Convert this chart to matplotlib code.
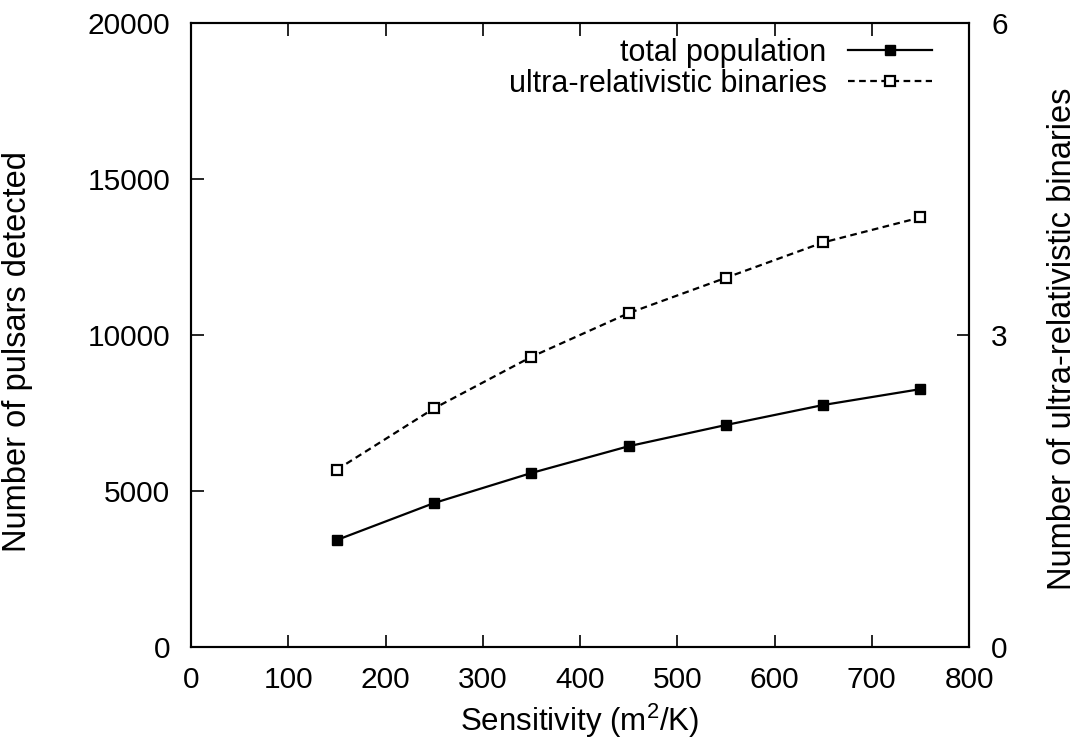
import matplotlib
matplotlib.use('Agg')
import matplotlib.pyplot as plt

# values
sensitivity = [150, 250, 350, 450, 550, 650, 750]
total_population = [3430, 4615, 5577, 6435, 7115, 7756, 8265]
ultra_binaries = [1.705, 2.295, 2.79, 3.21, 3.55, 3.89, 4.13]

x_ticks = [0, 100, 200, 300, 400, 500, 600, 700, 800]
left_ticks = [0, 5000, 10000, 15000, 20000]
right_ticks = [0, 3, 6]

plt.rcParams['font.family'] = ['Liberation Sans', 'DejaVu Sans']
plt.rcParams['mathtext.fontset'] = 'custom'
plt.rcParams['mathtext.rm'] = 'Liberation Sans'
tick_fs = 21.5
leg_fs = 22
xlab_fs = 22.5
ylab_fs = 23.5

fig = plt.figure(figsize=(10.76, 7.45), dpi=100)
ax = fig.add_axes([191 / 1076, 1 - 647 / 745, (969 - 191) / 1076, (647 - 23) / 745])
ax2 = ax.twinx()

l1, = ax.plot(sensitivity, total_population, '-', color='black', lw=1.6,
              marker='s', ms=7, mfc='black', mec='black')
l2, = ax2.plot(sensitivity, ultra_binaries, '--', color='black', lw=1.6,
               dashes=(3, 2), marker='s', ms=7, mfc='white', mec='black', mew=1.6)

ax.set_xlim(0, 800)
ax.set_ylim(0, 20000)
ax2.set_ylim(0, 6)
ax.set_xticks(x_ticks)
ax.set_yticks(left_ticks)
ax2.set_yticks(right_ticks)

ax.tick_params(axis='x', direction='in', top=True, length=9, width=1.2, labelsize=tick_fs, pad=14)
ax.tick_params(axis='y', direction='in', length=9, width=1.2, labelsize=tick_fs, pad=15)
ax2.tick_params(axis='y', direction='in', length=9, width=1.2, labelsize=tick_fs, pad=16)
for a in (ax, ax2):
    for s in a.spines.values():
        s.set_linewidth(1.5)

ax.set_xlabel('Sensitivity (m$^2$/K)', fontsize=xlab_fs)
ax.xaxis.set_label_coords(0.5, -0.088)
ax.set_ylabel('Number of pulsars detected', fontsize=ylab_fs)
ax.yaxis.set_label_coords(-0.203, 0.473)
ax2.set_ylabel('Number of ultra-relativistic binaries', fontsize=ylab_fs)
ax2.yaxis.set_label_coords(1.1003, 0.494)

ax2.legend([l1, l2], ['total population', 'ultra-relativistic binaries'],
           loc='upper right', frameon=False, markerfirst=False, fontsize=leg_fs,
           handlelength=2.75, handletextpad=0.7, labelspacing=0.02,
           borderpad=0, borderaxespad=0, bbox_to_anchor=(0.9524, 0.976))

fig.savefig('out.png', dpi=100)
